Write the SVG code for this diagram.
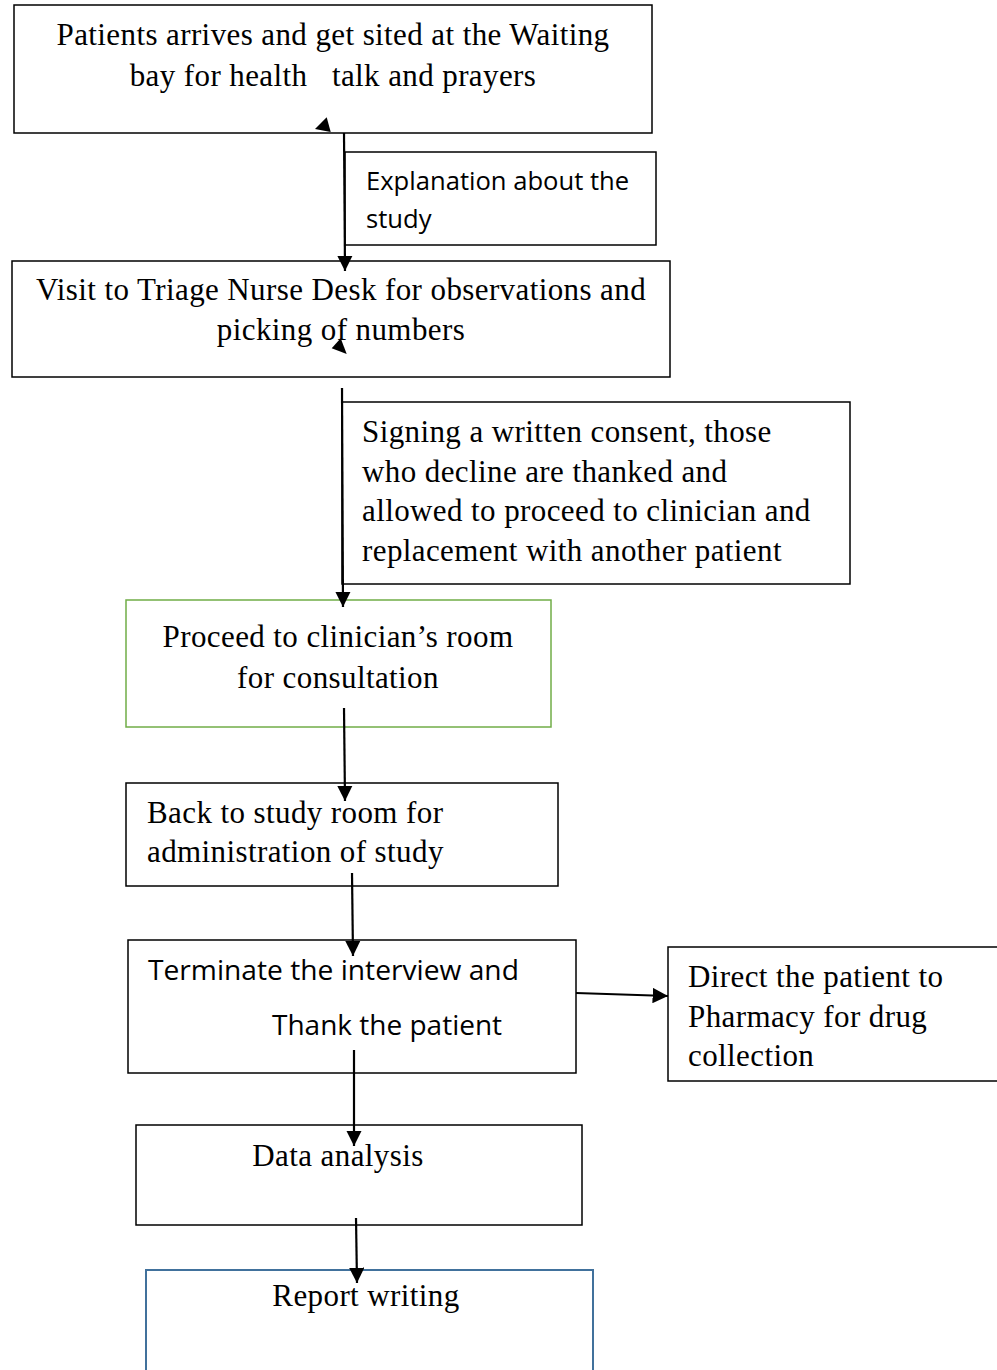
<svg xmlns="http://www.w3.org/2000/svg" width="997" height="1370" viewBox="0 0 997 1370">
<style>
.box{fill:#fff;stroke:#000;stroke-width:1.5}
.serif{font-family:"Liberation Serif",serif;font-size:31px;letter-spacing:0.4px;fill:#000}
.sans{font-family:"Open Sans","Liberation Sans",sans-serif;font-size:25.6px;fill:#000}
.c{text-anchor:middle}
.conn{stroke:#000;stroke-width:2.2;fill:none;marker-end:url(#ah)}
</style>
<defs>
<marker id="ah" viewBox="0 0 10 10" refX="10" refY="5" markerWidth="7" markerHeight="7" markerUnits="strokeWidth" orient="auto">
<path d="M0,0 L10,5 L0,10 z" fill="#000"/>
</marker>
</defs>
<rect width="997" height="1370" fill="#fff"/>
<g id="n1">
<rect class="box" x="14" y="5" width="638" height="128"/>
<text class="serif c" x="333" y="45">Patients arrives and get sited at the Waiting</text>
<text class="serif c" x="333" y="86" xml:space="preserve">bay for health   talk and prayers</text>
</g>
<g id="n_expl">
<rect class="box" x="345" y="152" width="311" height="93"/>
<text class="sans" x="366" y="190">Explanation about the</text>
<text class="sans" x="366" y="228">study</text>
</g>
<g id="n2">
<rect class="box" x="12" y="261" width="658" height="116"/>
<text class="serif c" x="341" y="300">Visit to Triage Nurse Desk for observations and</text>
<text class="serif c" x="341" y="340">picking of numbers</text>
</g>
<g id="n_consent">
<rect class="box" x="342" y="402" width="508" height="182"/>
<text class="serif" x="362" y="442">Signing a written consent, those</text>
<text class="serif" x="362" y="482">who decline are thanked and</text>
<text class="serif" x="362" y="521">allowed to proceed to clinician and</text>
<text class="serif" x="362" y="561">replacement with another patient</text>
</g>
<g id="n3">
<rect class="box" x="126" y="600" width="425" height="127" style="stroke:#70ad47"/>
<text class="serif c" x="338" y="647">Proceed to clinician’s room</text>
<text class="serif c" x="338" y="688">for consultation</text>
</g>
<g id="n4">
<rect class="box" x="126" y="783" width="432" height="103"/>
<text class="serif" x="147" y="823">Back to study room for</text>
<text class="serif" x="147" y="862">administration of study</text>
</g>
<g id="n5">
<rect class="box" x="128" y="940" width="448" height="133"/>
<text class="sans" x="148" y="980" style="font-size:28.2px">Terminate the interview and</text>
<text class="sans" x="272" y="1035" style="font-size:28px">Thank the patient</text>
</g>
<g id="n6">
<rect class="box" x="668" y="947" width="340" height="134"/>
<text class="serif" x="688" y="987">Direct the patient to</text>
<text class="serif" x="688" y="1027">Pharmacy for drug</text>
<text class="serif" x="688" y="1066">collection</text>
</g>
<g id="n7">
<rect class="box" x="136" y="1125" width="446" height="100"/>
<text class="serif c" x="338" y="1166">Data analysis</text>
</g>
<g id="n8">
<rect class="box" x="146" y="1270" width="447" height="110" style="stroke:#41719c;stroke-width:2"/>
<text class="serif c" x="366" y="1306">Report writing</text>
</g>
<g id="connectors">
<line class="conn" x1="344" y1="133" x2="345" y2="271"/>
<line class="conn" x1="342" y1="388" x2="343" y2="607"/>
<line class="conn" x1="344" y1="708" x2="345" y2="801"/>
<line class="conn" x1="352" y1="873" x2="353" y2="956"/>
<line class="conn" x1="576" y1="993" x2="668" y2="996"/>
<line class="conn" x1="354" y1="1050" x2="354" y2="1146"/>
<line class="conn" x1="356" y1="1218" x2="357" y2="1283"/>
<polygon points="326.7,117.3 315,129 330.7,132" fill="#000"/>
<polygon points="346.7,354 331.7,348.3 340.7,338.3" fill="#000"/>
</g>
</svg>
